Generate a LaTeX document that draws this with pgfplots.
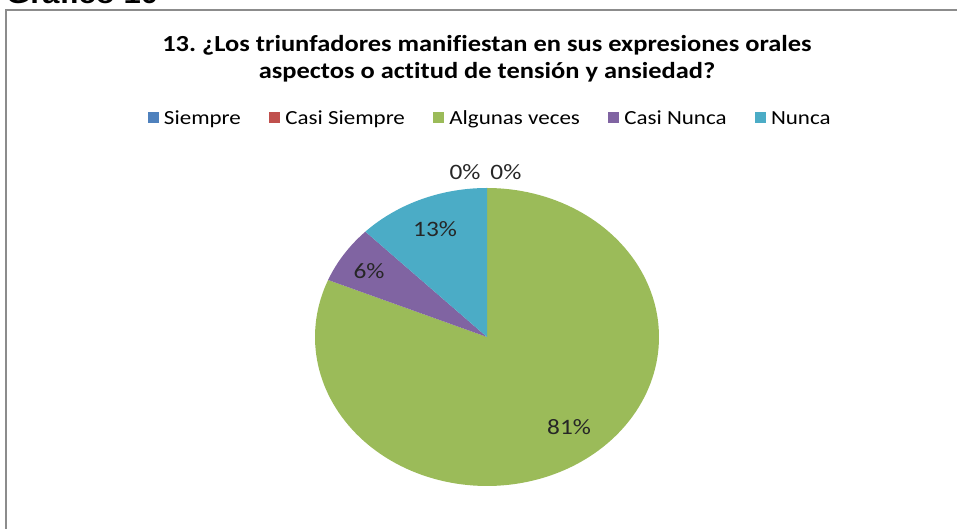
\documentclass[border=0pt]{standalone}
\usepackage{fontspec}
\setmainfont{Carlito}[FakeStretch=1.15, Ligatures={NoCommon}]
\newfontfamily\headfont{Liberation Sans}[FakeStretch=1.15]
\usepackage{pgfplots}
\usepackage{pgfplotstable}
\pgfplotsset{compat=1.18}
\frenchspacing

\definecolor{xlblue}{HTML}{4F81BD}
\definecolor{xlred}{HTML}{C0504D}
\definecolor{xlgreen}{HTML}{9BBB59}
\definecolor{xlpurple}{HTML}{8064A2}
\definecolor{xlaqua}{HTML}{4BACC6}
\definecolor{frame}{HTML}{8C8C8C}

% respuestas (n = 16)
\pgfplotstableread{
cat count
Siempre 0
CasiSiempre 0
AlgunasVeces 13
CasiNunca 1
Nunca 2
}\piedata

\begin{document}
\begin{tikzpicture}[x=1pt,y=1pt]
\useasboundingbox (0,0) rectangle (957,529);
\clip (0,0) rectangle (957,529);

% angles, clockwise from 12 o'clock
\pgfplotstablegetelem{0}{count}\of\piedata \let\nA\pgfplotsretval
\pgfplotstablegetelem{1}{count}\of\piedata \let\nB\pgfplotsretval
\pgfplotstablegetelem{2}{count}\of\piedata \let\nC\pgfplotsretval
\pgfplotstablegetelem{3}{count}\of\piedata \let\nD\pgfplotsretval
\pgfplotstablegetelem{4}{count}\of\piedata \let\nE\pgfplotsretval
\pgfmathsetmacro\ntot{\nA+\nB+\nC+\nD+\nE}
\pgfmathsetmacro\aA{90}
\pgfmathsetmacro\aB{\aA-360*\nA/\ntot}
\pgfmathsetmacro\aC{\aB-360*\nB/\ntot}
\pgfmathsetmacro\aD{\aC-360*\nC/\ntot}
\pgfmathsetmacro\aE{\aD-360*\nD/\ntot}
\pgfmathsetmacro\aF{\aE-360*\nE/\ntot}

\node[anchor=base west, inner sep=0pt, font=\headfont\bfseries\fontsize{27}{30}\selectfont] at (6,525) {Gráfico 10};
\draw[frame, line width=2pt] (6,-10) -- (6,519) -- (970,519);

\node[align=center, font=\bfseries\fontsize{23}{27}\selectfont] at (487,470)
  {13. ¿Los triunfadores manifiestan en sus expresiones orales\\aspectos o actitud de tensión y ansiedad?};

\begin{axis}[
  scale only axis,
  width=344pt, height=298pt,
  at={(487pt,192pt)}, anchor=center,
  xmin=-1, xmax=1, ymin=-1, ymax=1,
  hide axis,
  clip=false,
  legend columns=5,
  legend style={draw=none, fill=none, at={(0.509,1.2315)}, anchor=center,
    font=\fontsize{20}{24}\selectfont,
    /tikz/every odd column/.append style={column sep=4pt},
    /tikz/every even column/.append style={column sep=26pt},
    nodes={inner sep=2pt, text depth=0.25em}},
  legend image code/.code={\fill[#1] (0pt,-3pt) rectangle (10pt,7pt);},
]
\addplot[forget plot, draw=none, fill=xlgreen, domain=\aD:\aC, samples=150] ({cos(x)},{sin(x)}) -- (axis cs:0,0) -- cycle;
\addplot[forget plot, draw=none, fill=xlpurple, domain=\aE:\aD, samples=20] ({cos(x)},{sin(x)}) -- (axis cs:0,0) -- cycle;
\addplot[forget plot, draw=none, fill=xlaqua, domain=\aF:\aE, samples=40] ({cos(x)},{sin(x)}) -- (axis cs:0,0) -- cycle;

\addlegendimage{xlblue}\addlegendentry{Siempre}
\addlegendimage{xlred}\addlegendentry{Casi Siempre}
\addlegendimage{xlgreen}\addlegendentry{Algunas veces}
\addlegendimage{xlpurple}\addlegendentry{Casi Nunca}
\addlegendimage{xlaqua}\addlegendentry{Nunca}

\begin{scope}[every node/.style={font=\fontsize{22}{26}\selectfont, text=black!85}]
\node at (axis cs:-0.128,1.107) {0\%};
\node at (axis cs:0.110,1.107) {0\%};
\node at (axis cs:-0.302,0.727) {13\%};
\node at (axis cs:-0.686,0.440) {6\%};
\node at (axis cs:0.477,-0.604) {81\%};
\end{scope}
\end{axis}
\end{tikzpicture}
\end{document}
